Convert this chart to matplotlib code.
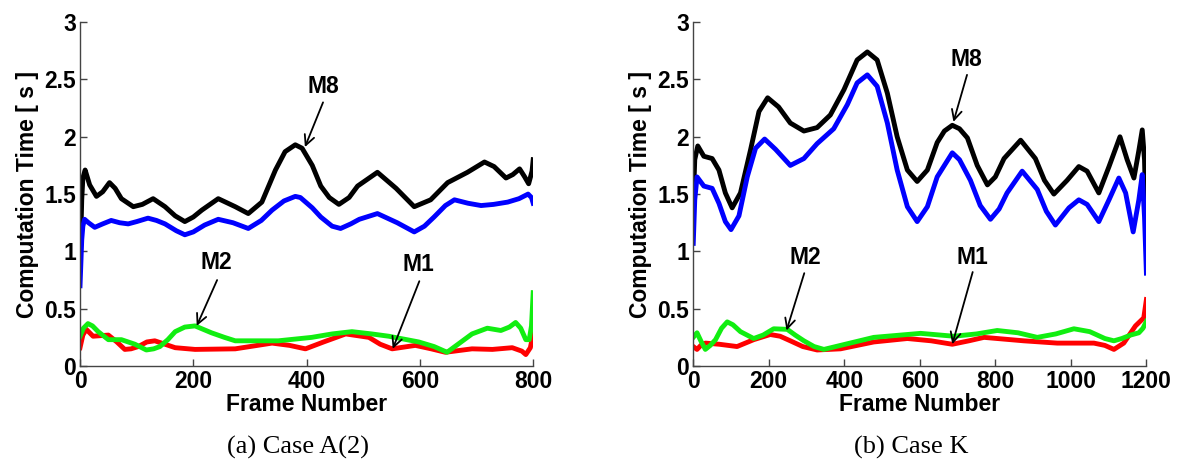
import matplotlib.pyplot as plt
from matplotlib.ticker import FuncFormatter

# (a) Case A(2) -- frame number vs computation time
a_m8_x = [0, 3, 5, 9, 17, 29, 40, 52, 62, 73, 94, 110, 129, 150, 168, 185, 200, 215, 244, 274, 297, 321, 345, 362, 380, 392, 410, 425, 440, 457, 475, 490, 525, 558, 590, 619, 649, 684, 714, 731, 752, 764, 776, 785, 792, 798, 800]
a_m8_y = [0.85, 1.45, 1.64, 1.71, 1.58, 1.48, 1.52, 1.60, 1.55, 1.46, 1.39, 1.41, 1.46, 1.39, 1.31, 1.26, 1.30, 1.36, 1.46, 1.39, 1.33, 1.43, 1.71, 1.87, 1.93, 1.90, 1.75, 1.57, 1.47, 1.41, 1.47, 1.57, 1.69, 1.55, 1.39, 1.45, 1.60, 1.69, 1.78, 1.74, 1.64, 1.67, 1.72, 1.65, 1.59, 1.70, 1.80]
a_blu_x = [0, 3, 5, 8, 15, 26, 40, 55, 70, 85, 100, 120, 135, 150, 170, 185, 200, 220, 244, 270, 297, 320, 339, 360, 380, 389, 410, 425, 445, 460, 478, 493, 525, 560, 590, 608, 625, 645, 661, 685, 708, 730, 755, 775, 791, 797, 800]
a_blu_y = [0.70, 1.10, 1.22, 1.28, 1.25, 1.21, 1.24, 1.27, 1.25, 1.24, 1.26, 1.29, 1.27, 1.24, 1.18, 1.145, 1.17, 1.23, 1.28, 1.25, 1.20, 1.27, 1.36, 1.44, 1.48, 1.47, 1.38, 1.30, 1.22, 1.20, 1.24, 1.28, 1.33, 1.25, 1.17, 1.22, 1.30, 1.40, 1.45, 1.42, 1.40, 1.41, 1.43, 1.46, 1.50, 1.47, 1.42]
a_m2_x = [0, 6, 14, 22, 32, 50, 73, 97, 117, 130, 141, 155, 168, 185, 203, 232, 255, 274, 350, 409, 445, 480, 515, 545, 598, 625, 648, 670, 692, 719, 743, 758, 769, 778, 787, 793, 797, 800]
a_m2_y = [0.26, 0.33, 0.37, 0.35, 0.30, 0.23, 0.23, 0.19, 0.14, 0.15, 0.17, 0.23, 0.30, 0.34, 0.35, 0.29, 0.25, 0.22, 0.22, 0.25, 0.28, 0.30, 0.28, 0.26, 0.21, 0.17, 0.12, 0.20, 0.28, 0.33, 0.31, 0.34, 0.38, 0.33, 0.23, 0.23, 0.35, 0.64]
a_m1_x = [0, 5, 11, 17, 23, 50, 65, 79, 90, 103, 118, 132, 150, 168, 203, 274, 339, 370, 398, 430, 469, 510, 530, 551, 592, 620, 645, 692, 728, 763, 780, 787, 795, 800]
a_m1_y = [0.16, 0.27, 0.32, 0.29, 0.26, 0.27, 0.21, 0.145, 0.15, 0.17, 0.21, 0.22, 0.19, 0.16, 0.145, 0.15, 0.20, 0.18, 0.15, 0.21, 0.28, 0.25, 0.19, 0.15, 0.18, 0.15, 0.12, 0.15, 0.145, 0.16, 0.13, 0.10, 0.16, 0.28]

# (b) Case K
b_m8_x = [0, 4, 12, 28, 50, 68, 85, 103, 125, 152, 174, 197, 226, 257, 293, 328, 363, 399, 434, 461, 487, 514, 540, 567, 593, 620, 646, 665, 686, 705, 726, 752, 779, 800, 823, 867, 906, 930, 955, 990, 1021, 1043, 1074, 1101, 1130, 1149, 1167, 1180, 1189, 1195, 1198, 1200]
b_m8_y = [1.42, 1.80, 1.92, 1.83, 1.81, 1.71, 1.51, 1.38, 1.51, 1.89, 2.22, 2.34, 2.26, 2.12, 2.05, 2.08, 2.19, 2.41, 2.67, 2.74, 2.67, 2.38, 2.00, 1.71, 1.61, 1.71, 1.95, 2.05, 2.10, 2.07, 1.99, 1.75, 1.58, 1.65, 1.81, 1.97, 1.81, 1.62, 1.50, 1.62, 1.74, 1.70, 1.51, 1.74, 2.00, 1.80, 1.64, 1.88, 2.06, 1.80, 1.40, 1.21]
b_blu_x = [0, 4, 10, 28, 50, 68, 85, 100, 121, 143, 165, 189, 218, 257, 293, 328, 372, 408, 434, 461, 487, 514, 540, 567, 593, 620, 646, 686, 705, 734, 760, 787, 810, 831, 871, 911, 935, 959, 995, 1021, 1043, 1074, 1101, 1127, 1145, 1165, 1180, 1189, 1195, 1200]
b_blu_y = [1.07, 1.45, 1.65, 1.57, 1.55, 1.42, 1.26, 1.19, 1.31, 1.65, 1.90, 1.98, 1.89, 1.75, 1.81, 1.94, 2.07, 2.28, 2.47, 2.54, 2.44, 2.12, 1.71, 1.39, 1.26, 1.39, 1.65, 1.86, 1.80, 1.62, 1.40, 1.28, 1.37, 1.51, 1.70, 1.54, 1.35, 1.23, 1.38, 1.45, 1.41, 1.26, 1.45, 1.64, 1.51, 1.17, 1.45, 1.67, 1.30, 0.81]
b_m2_x = [0, 10, 20, 32, 45, 59, 75, 90, 105, 125, 160, 185, 213, 249, 270, 293, 320, 346, 390, 478, 602, 690, 750, 805, 860, 911, 960, 1008, 1050, 1090, 1114, 1135, 1158, 1180, 1191, 1200]
b_m2_y = [0.25, 0.29, 0.22, 0.145, 0.18, 0.23, 0.33, 0.385, 0.36, 0.30, 0.24, 0.27, 0.325, 0.32, 0.27, 0.22, 0.17, 0.145, 0.18, 0.25, 0.285, 0.26, 0.28, 0.31, 0.29, 0.25, 0.28, 0.325, 0.30, 0.24, 0.22, 0.24, 0.27, 0.29, 0.33, 0.39]
b_m1_x = [0, 10, 20, 32, 69, 116, 160, 204, 230, 257, 290, 328, 390, 478, 567, 630, 686, 730, 770, 875, 964, 1061, 1090, 1114, 1140, 1171, 1193, 1200]
b_m1_y = [0.17, 0.145, 0.18, 0.20, 0.19, 0.17, 0.23, 0.275, 0.26, 0.22, 0.17, 0.14, 0.15, 0.21, 0.24, 0.22, 0.19, 0.22, 0.25, 0.22, 0.20, 0.20, 0.18, 0.145, 0.20, 0.35, 0.42, 0.58]

plt.rcParams['font.family'] = ['Liberation Sans', 'DejaVu Sans']
plt.rcParams['font.weight'] = 'bold'

fig = plt.figure(figsize=(11.77, 4.61), dpi=100)
ax1 = fig.add_axes([0.068, 0.206, 0.385, 0.746])
ax2 = fig.add_axes([0.589, 0.206, 0.385, 0.746])

lw = 3.5
green = '#11ee11'


def fmt(v, pos):
    return ('%g' % v)


def style(ax, xmax, step):
    ax.set_xlim(0, xmax)
    ax.set_ylim(0, 3)
    ax.set_xticks(range(0, xmax + 1, step))
    ax.set_yticks([0, 0.5, 1, 1.5, 2, 2.5, 3])
    ax.yaxis.set_major_formatter(FuncFormatter(fmt))
    for s in ['top', 'right']:
        ax.spines[s].set_visible(False)
    for s in ['left', 'bottom']:
        ax.spines[s].set_color('#444444')
        ax.spines[s].set_linewidth(1.0)
    ax.tick_params(direction='in', length=5, width=1, color='#444444',
                   labelsize=16.5, pad=3)
    for lab in ax.get_xticklabels() + ax.get_yticklabels():
        lab.set_fontweight('bold')
    ax.set_xlabel('Frame Number', fontsize=16.5, fontweight='bold', labelpad=0)
    ax.set_ylabel('Computation Time [ s ]', fontsize=16.5, fontweight='bold', labelpad=4)


def note(ax, text, tx, ty, ax_, ay_, hx, hy):
    ax.text(tx, ty, text, fontsize=16.5, fontweight='bold', ha='center', va='center')
    ax.annotate('', xy=(hx, hy), xytext=(ax_, ay_),
                arrowprops=dict(arrowstyle='->', color='black', lw=1.3,
                                mutation_scale=18, shrinkA=0, shrinkB=0))


# left panel
ax1.plot(a_m8_x, a_m8_y, color='black', lw=lw, solid_joinstyle='round')
ax1.plot(a_blu_x, a_blu_y, color='blue', lw=lw, solid_joinstyle='round')
ax1.plot(a_m1_x, a_m1_y, color='red', lw=lw, solid_joinstyle='round')
ax1.plot(a_m2_x, a_m2_y, color=green, lw=lw, solid_joinstyle='round')
style(ax1, 800, 200)
note(ax1, 'M8', 429, 2.44, 429, 2.30, 397, 1.91)
note(ax1, 'M2', 240, 0.90, 242, 0.75, 206, 0.35)
note(ax1, 'M1', 597, 0.89, 599, 0.74, 552, 0.15)

# right panel
ax2.plot(b_m8_x, b_m8_y, color='black', lw=lw, solid_joinstyle='round')
ax2.plot(b_blu_x, b_blu_y, color='blue', lw=lw, solid_joinstyle='round')
ax2.plot(b_m1_x, b_m1_y, color='red', lw=lw, solid_joinstyle='round')
ax2.plot(b_m2_x, b_m2_y, color=green, lw=lw, solid_joinstyle='round')
style(ax2, 1200, 200)
note(ax2, 'M8', 723, 2.67, 725, 2.54, 689, 2.13)
note(ax2, 'M2', 296, 0.95, 294, 0.81, 247, 0.31)
note(ax2, 'M1', 738, 0.95, 740, 0.82, 686, 0.19)

fig.text(0.253, 0.030, '(a) Case A(2)', family=['Liberation Serif', 'DejaVu Serif'],
         fontweight='normal', fontsize=19, ha='center', va='center')
fig.text(0.774, 0.030, '(b) Case K', family=['Liberation Serif', 'DejaVu Serif'],
         fontweight='normal', fontsize=19, ha='center', va='center')

fig.savefig('out.png', dpi=100)
